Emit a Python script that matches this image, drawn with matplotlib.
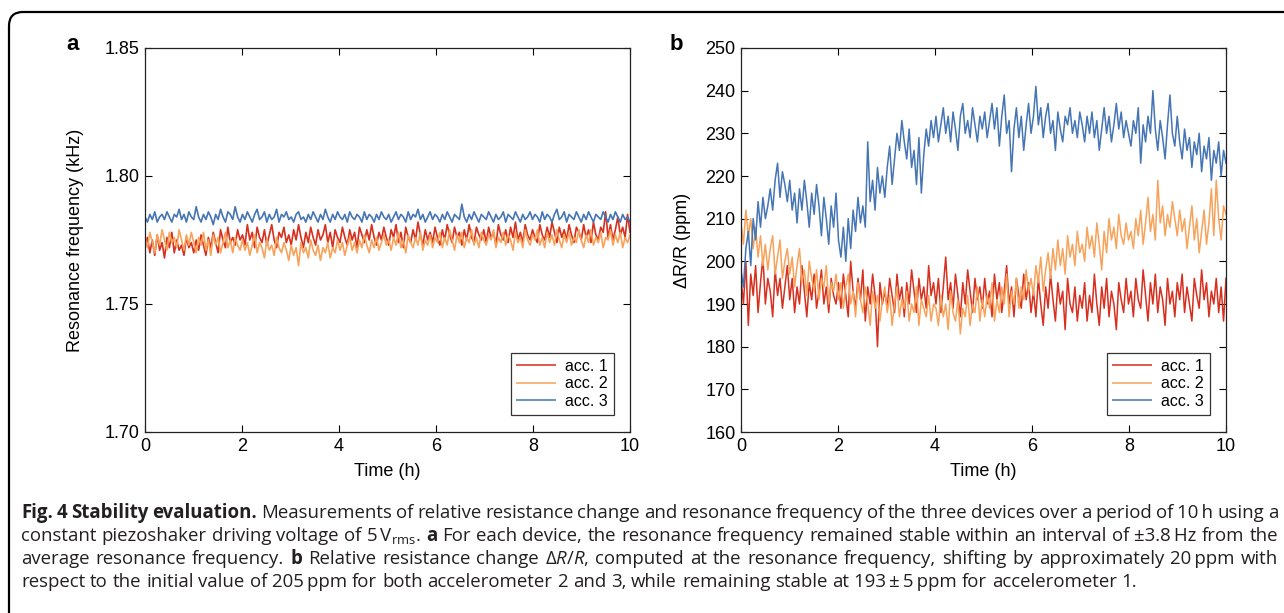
import numpy as np
import matplotlib
matplotlib.use('Agg')
import matplotlib.pyplot as plt
from matplotlib.patches import FancyBboxPatch
from matplotlib.transforms import IdentityTransform

# ---- data ----
# panel a: resonance frequency in Hz
freq_acc1 = [
    1772, 1776, 1770, 1775, 1769, 1777, 1771, 1774, 1768, 1776, 1772, 1778, 1770, 1775, 1771, 1773, 1769, 1776, 1772, 1774,
    1770, 1775, 1771, 1777, 1773, 1769, 1776, 1772, 1778, 1774, 1770, 1779, 1775, 1772, 1780, 1774, 1776, 1773, 1779, 1775,
    1777, 1773, 1781, 1775, 1778, 1772, 1780, 1776, 1774, 1779, 1773, 1777, 1781, 1775, 1772, 1778, 1776, 1780, 1774, 1777,
    1773, 1779, 1775, 1781, 1776, 1772, 1778, 1774, 1780, 1776, 1773, 1779, 1775, 1777, 1781, 1774, 1778, 1772, 1779, 1776,
    1774, 1780, 1776, 1773, 1779, 1775, 1778, 1772, 1780, 1777, 1774, 1779, 1775, 1781, 1776, 1773, 1778, 1775, 1780, 1776,
    1773, 1779, 1776, 1781, 1774, 1778, 1772, 1780, 1776, 1774, 1779, 1775, 1782, 1777, 1773, 1779, 1775, 1778, 1774, 1780,
    1776, 1773, 1779, 1775, 1781, 1777, 1774, 1780, 1776, 1778, 1773, 1779, 1775, 1781, 1776, 1774, 1780, 1777, 1775, 1779,
    1774, 1780, 1776, 1778, 1773, 1781, 1777, 1775, 1779, 1774, 1780, 1776, 1782, 1775, 1778, 1774, 1781, 1777, 1775, 1779,
    1776, 1774, 1781, 1777, 1775, 1780, 1776, 1782, 1778, 1774, 1780, 1776, 1779, 1775, 1781, 1777, 1774, 1780, 1778, 1775,
    1781, 1776, 1779, 1774, 1782, 1777, 1775, 1780, 1778, 1786, 1776, 1781, 1775, 1779, 1784, 1777, 1780, 1776, 1785, 1778,
]
freq_acc2 = [
    1776, 1772, 1778, 1774, 1770, 1777, 1773, 1779, 1775, 1771, 1778, 1774, 1776, 1772, 1779, 1775, 1771, 1777, 1773, 1778,
    1774, 1770, 1776, 1773, 1778, 1771, 1775, 1769, 1777, 1773, 1776, 1770, 1774, 1778, 1772, 1775, 1770, 1776, 1773, 1771,
    1775, 1771, 1774, 1769, 1773, 1777, 1770, 1774, 1772, 1768, 1775, 1771, 1773, 1769, 1776, 1772, 1770, 1774, 1771, 1767,
    1773, 1769, 1772, 1765, 1774, 1770, 1772, 1768, 1775, 1771, 1769, 1773, 1767, 1772, 1770, 1774, 1768, 1772, 1770, 1775,
    1771, 1774, 1769, 1773, 1776, 1771, 1774, 1770, 1775, 1772, 1777, 1773, 1770, 1775, 1772, 1776, 1771, 1774, 1777, 1773,
    1775, 1771, 1776, 1773, 1778, 1772, 1775, 1770, 1777, 1774, 1772, 1776, 1773, 1778, 1771, 1775, 1773, 1777, 1772, 1776,
    1774, 1778, 1772, 1776, 1773, 1779, 1775, 1771, 1777, 1774, 1778, 1772, 1776, 1774, 1779, 1773, 1776, 1772, 1778, 1775,
    1773, 1777, 1775, 1779, 1772, 1776, 1774, 1778, 1773, 1777, 1775, 1771, 1778, 1774, 1776, 1772, 1779, 1775, 1773, 1777,
    1775, 1779, 1773, 1776, 1772, 1778, 1774, 1777, 1773, 1779, 1775, 1772, 1777, 1774, 1778, 1773, 1776, 1774, 1779, 1775,
    1772, 1777, 1774, 1779, 1773, 1776, 1774, 1778, 1772, 1776, 1775, 1779, 1773, 1777, 1774, 1778, 1772, 1776, 1774, 1777,
]
freq_acc3 = [
    1784, 1782, 1785, 1783, 1786, 1782, 1784, 1785, 1783, 1786, 1784, 1782, 1785, 1784, 1787, 1783, 1785, 1782, 1786, 1784,
    1783, 1788, 1784, 1782, 1785, 1783, 1786, 1784, 1781, 1785, 1783, 1787, 1784, 1782, 1786, 1785, 1783, 1788, 1784, 1782,
    1785, 1783, 1786, 1784, 1782, 1785, 1787, 1783, 1784, 1786, 1782, 1785, 1783, 1784, 1787, 1782, 1785, 1784, 1786, 1783,
    1784, 1782, 1785, 1786, 1783, 1784, 1782, 1785, 1783, 1786, 1784, 1782, 1785, 1783, 1787, 1784, 1782, 1785, 1783, 1786,
    1784, 1783, 1785, 1782, 1786, 1784, 1783, 1785, 1784, 1782, 1786, 1783, 1785, 1784, 1782, 1785, 1783, 1786, 1784, 1783,
    1785, 1782, 1784, 1786, 1783, 1785, 1784, 1782, 1786, 1783, 1785, 1784, 1787, 1783, 1785, 1782, 1784, 1786, 1783, 1785,
    1784, 1782, 1785, 1783, 1786, 1784, 1782, 1785, 1784, 1783, 1789, 1784, 1782, 1785, 1783, 1786, 1784, 1782, 1785, 1784,
    1783, 1786, 1784, 1782, 1785, 1783, 1784, 1786, 1782, 1785, 1784, 1783, 1786, 1784, 1782, 1785, 1783, 1784, 1786, 1783,
    1785, 1784, 1782, 1786, 1783, 1785, 1784, 1782, 1785, 1787, 1783, 1784, 1786, 1782, 1785, 1784, 1783, 1786, 1784, 1782,
    1785, 1783, 1786, 1784, 1782, 1785, 1784, 1783, 1786, 1784, 1782, 1785, 1783, 1786, 1784, 1782, 1785, 1783, 1784, 1782,
]

# panel b: relative resistance change in ppm
dr_acc1 = [
    196, 190, 200, 185, 197, 192, 199, 188, 195, 201, 190, 196, 193, 187, 198, 192, 196, 189, 194, 199,
    191, 196, 188, 194, 190, 199, 193, 187, 195, 191, 197, 189, 193, 198, 190, 194, 188, 196, 192, 190,
    195, 189, 197, 192, 187, 200, 193, 189, 196, 191, 198, 186, 194, 190, 197, 192, 180, 195, 190, 193,
    189, 196, 192, 188, 197, 191, 194, 187, 195, 190, 198, 193, 188, 196, 191, 194, 189, 199, 192, 195,
    190, 196, 188, 194, 201, 191, 195, 189, 197, 192, 187, 195, 190, 198, 193, 188, 196, 191, 194, 189,
    196, 190, 193, 187, 197, 191, 195, 188, 193, 199, 190, 194, 187, 196, 192, 189, 197, 191, 195, 188,
    193, 187, 196, 190, 185, 194, 189, 197, 191, 186, 195, 190, 193, 184, 196, 190, 188, 194, 186, 192,
    189, 195, 186, 192, 188, 197, 190, 185, 194, 189, 196, 187, 193, 190, 184, 195, 191, 188, 196, 190,
    193, 187, 196, 191, 189, 198, 192, 186, 195, 190, 197, 188, 194, 191, 185, 196, 190, 193, 187, 195,
    191, 197, 188, 194, 190, 186, 196, 192, 189, 198, 191, 195, 187, 193, 190, 196, 188, 194, 186, 196,
]
dr_acc2 = [
    209, 204, 212, 206, 210, 203, 208, 201, 206, 199, 204, 198, 203, 206, 197, 201, 205, 196, 200, 203,
    197, 201, 194, 199, 203, 195, 198, 192, 200, 196, 193, 198, 191, 196, 194, 199, 190, 195, 193, 197,
    191, 195, 189, 194, 197, 190, 193, 187, 195, 191, 188, 194, 190, 185, 193, 189, 192, 186, 191, 194,
    188, 192, 185, 190, 194, 187, 191, 189, 193, 186, 190, 188, 194, 185, 191, 189, 187, 192, 186, 190,
    189, 185, 192, 187, 190, 184, 193, 188, 186, 191, 183, 189, 187, 192, 185, 190, 188, 194, 186, 191,
    187, 192, 189, 195, 186, 191, 188, 194, 190, 197, 187, 193, 190, 196, 189, 194, 191, 198, 193, 196,
    192, 199, 195, 201, 193, 198, 202, 196, 203, 198, 205, 199, 203, 197, 206, 201, 204, 199, 207, 202,
    204, 200, 208, 203, 206, 201, 209, 204, 198, 207, 202, 210, 205, 208, 203, 211, 206, 204, 209, 205,
    207, 203, 210, 206, 212, 204, 209, 215, 207, 211, 205, 219, 209, 213, 206, 211, 208, 214, 210, 206,
    212, 207, 210, 203, 208, 213, 205, 210, 202, 207, 212, 204, 209, 217, 206, 219, 210, 205, 213, 211,
]
dr_acc3 = [
    198, 194, 203, 207, 199, 210, 205, 214, 208, 215, 210, 213, 217, 212, 219, 223, 215, 221, 218, 214,
    219, 212, 216, 209, 217, 212, 219, 214, 208, 216, 211, 218, 213, 206, 215, 210, 204, 213, 208, 216,
    205, 201, 208, 200, 210, 203, 212, 207, 215, 209, 213, 208, 228, 214, 219, 212, 222, 216, 220, 215,
    222, 227, 218, 224, 230, 226, 233, 228, 224, 231, 222, 226, 218, 229, 216, 225, 231, 227, 233, 229,
    234, 228, 232, 236, 230, 234, 228, 235, 231, 226, 234, 237, 230, 233, 229, 236, 232, 228, 234, 231,
    235, 229, 233, 237, 231, 236, 227, 234, 239, 230, 233, 221, 231, 236, 229, 234, 226, 232, 237, 230,
    234, 241, 232, 236, 229, 234, 237, 230, 233, 226, 235, 231, 228, 234, 232, 236, 230, 233, 229, 235,
    232, 228, 234, 230, 235, 229, 233, 226, 231, 236, 230, 234, 228, 232, 237, 231, 235, 229, 233, 230,
    227, 233, 230, 236, 223, 232, 228, 234, 230, 240, 231, 226, 233, 229, 224, 232, 239, 230, 227, 234,
    228, 224, 231, 226, 229, 222, 228, 225, 230, 221, 227, 224, 229, 219, 226, 223, 228, 220, 226, 223,
]

labels = ['acc. 1', 'acc. 2', 'acc. 3']
colors = ['#d7301f', '#f7a35c', '#4575b4']
x_ticks = [0, 2, 4, 6, 8, 10]
freq_ticks = [1.70, 1.75, 1.80, 1.85]
dr_ticks = [160, 170, 180, 190, 200, 210, 220, 230, 240, 250]

caption_lines = [
    [("Fig.", "bold"), ("4", "bold"), ("Stability", "bold"), ("evaluation.", "bold"),
     "Measurements", "of", "relative", "resistance", "change", "and", "resonance", "frequency",
     "of", "the", "three", "devices", "over", "a", "period", "of", "10\u2009h", "using", "a"],
    ["constant", "piezoshaker", "driving", "voltage", "of", "5\u2009V$_{\\mathrm{rms}}$.", ("a", "bold"),
     "For", "each", "device,", "the", "resonance", "frequency", "remained", "stable", "within", "an",
     "interval", "of", "\u00b13.8\u2009Hz", "from", "the"],
    ["average", "resonance", "frequency.", ("b", "bold"), "Relative", "resistance", "change",
     "\u0394$\\mathit{R/R}$,", "computed", "at", "the", "resonance", "frequency,", "shifting", "by",
     "approximately", "20\u2009ppm", "with"],
    ["respect", "to", "the", "initial", "value", "of", "205\u2009ppm", "for", "both", "accelerometer",
     "2", "and", "3,", "while", "remaining", "stable", "at", "193\u2009\u00b1\u20095\u2009ppm", "for",
     "accelerometer", "1."],
]

# ---- style ----
plt.rcParams['font.family'] = ['Liberation Sans', 'DejaVu Sans']
plt.rcParams['mathtext.fontset'] = 'custom'
plt.rcParams['mathtext.rm'] = 'Open Sans'
plt.rcParams['mathtext.it'] = 'Open Sans:italic'
plt.rcParams['mathtext.bf'] = 'Open Sans:bold'

W, H = 1284, 613
fig = plt.figure(figsize=(W / 100, H / 100), dpi=100)

# outer rounded frame (runs off the right and bottom edge)
frame = FancyBboxPatch((9, -40), 1320, H - 12 + 40, boxstyle="round,pad=0,rounding_size=14",
                       transform=IdentityTransform(), fill=False, edgecolor='black', linewidth=1.6)
fig.patches.append(frame)


def setup_axes(left, ylim, yticks, yfmt, ylabel, ylabel_x):
    ax = fig.add_axes([left / W, (H - 432) / H, 485 / W, 384 / H])
    ax.set_xlim(0, 10)
    ax.set_ylim(*ylim)
    ax.set_xticks(x_ticks)
    ax.set_yticks(yticks)
    ax.set_yticklabels([yfmt.format(v) for v in yticks])
    ax.tick_params(direction='in', length=5, width=0.8, top=True, right=True,
                   labelsize=13, pad=4, colors='black')
    for s in ax.spines.values():
        s.set_linewidth(0.9)
        s.set_color('#222222')
    ax.set_xlabel('Time (h)', fontsize=13)
    ax.set_ylabel(ylabel, fontsize=13)
    ax.xaxis.set_label_coords(0.5, -0.082)
    ax.yaxis.set_label_coords(ylabel_x, 0.5)
    return ax


# panel a
ax_a = setup_axes(145, (1.70, 1.85), freq_ticks, '{:.2f}', 'Resonance frequency (kHz)', -0.126)
for ser, lab, col in zip([freq_acc1, freq_acc2, freq_acc3], labels, colors):
    t = np.linspace(0, 10, len(ser))
    ax_a.plot(t, np.array(ser) / 1000.0, color=col, lw=1.2, label=lab)

# panel b
ax_b = setup_axes(741, (160, 250), dr_ticks, '{:d}', '\u0394R/R (ppm)', -0.104)
for ser, lab, col in zip([dr_acc1, dr_acc2, dr_acc3], labels, colors):
    t = np.linspace(0, 10, len(ser))
    ax_b.plot(t, ser, color=col, lw=1.1, label=lab)

for ax in (ax_a, ax_b):
    leg = ax.legend(loc='lower right', bbox_to_anchor=(0.967, 0.044), fontsize=11.5, frameon=True,
                    fancybox=False, edgecolor='black', handlelength=2.4, handletextpad=0.6,
                    borderpad=0.4, labelspacing=0.15, borderaxespad=0)
    leg.get_frame().set_linewidth(0.9)
    for line in leg.get_lines():
        line.set_linewidth(1.4)
        line.set_alpha(0.8)

fig.text(73 / W, 1 - 44 / H, 'a', fontsize=16, fontweight='bold', ha='center', va='center')
fig.text(676 / W, 1 - 44 / H, 'b', fontsize=16, fontweight='bold', ha='center', va='center')

# ---- caption, justified word by word ----
cap_family = ['Open Sans', 'DejaVu Sans']
cap_size = 13.4
x_left, x_right = 21, 1278
line_y = [513, 536, 559, 582]
renderer = fig.canvas.get_renderer()
probe = fig.text(0, 0, 'a a', fontsize=cap_size, family=cap_family)
probe2 = fig.text(0, 0, 'aa', fontsize=cap_size, family=cap_family)
space_w = probe.get_window_extent(renderer).width - probe2.get_window_extent(renderer).width
probe.remove()
probe2.remove()
for i, words in enumerate(caption_lines):
    items = []
    for w in words:
        text, weight = (w if isinstance(w, tuple) else (w, 'normal'))
        items.append(fig.text(0, 1 - line_y[i] / H, text, fontsize=cap_size, fontweight=weight,
                              family=cap_family, va='center', ha='left', color='#231f20'))
    widths = [it.get_window_extent(renderer).width for it in items]
    if i < len(caption_lines) - 1:
        gap = (x_right - x_left - sum(widths)) / (len(items) - 1)
    else:
        gap = space_w
    print(i, sum(widths) + space_w * (len(items) - 1), gap)
    x = x_left
    for it, wdt in zip(items, widths):
        it.set_x(x / W)
        x += wdt + gap

fig.savefig('out.png', dpi=100)
